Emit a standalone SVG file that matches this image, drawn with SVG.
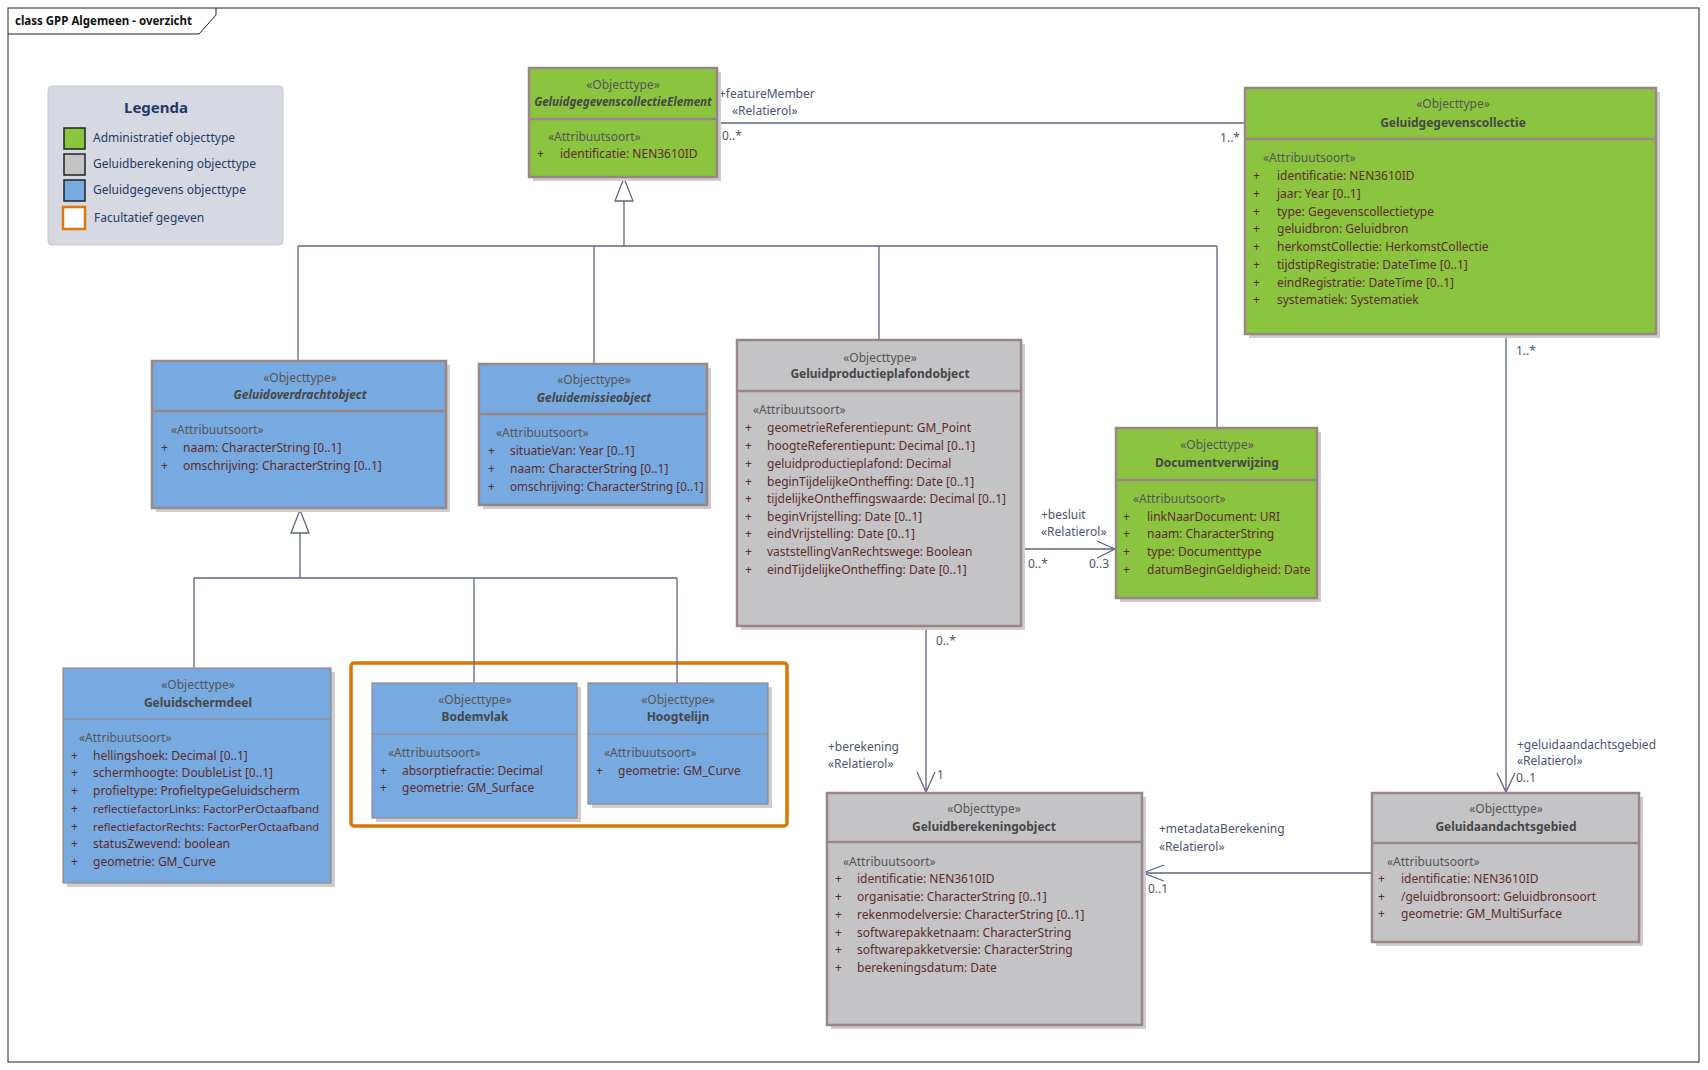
<svg xmlns="http://www.w3.org/2000/svg" width="1708" height="1070" viewBox="0 0 1708 1070">
<style>
text{font-family:"Noto Sans","Open Sans","DejaVu Sans",sans-serif;font-size:12px}
.sh{fill:#cdcdcd}
.g{fill:#8bc43f}
.b{fill:#77aae0}
.y{fill:#c4c4c6}
.tk{stroke:#9b8686;stroke-width:2.5}
.tn{stroke:#9b8686;stroke-width:1.2}
.st{fill:#555;text-anchor:middle}
.nm{fill:#474747;font-weight:bold;text-anchor:middle}
.it{font-style:italic}
.as{fill:#555}
.at{fill:#5e2b2b}
.cn{stroke:#5d6680;stroke-width:1.3;fill:none}
.gen{stroke:#5d6680;stroke-width:1.3;fill:#fff}
.lb{fill:#4d5470}
.lg{fill:#1f3a66;font-size:12px}
</style>
<rect x="0" y="0" width="1708" height="1070" fill="#fff"/>
<g id="frame">
<rect x="8" y="8" width="1691" height="1054" fill="none" stroke="#222" stroke-width="1"/>
<path d="M8,34 H199 L216,15 V8" fill="none" stroke="#222" stroke-width="1"/>
<text x="15" y="25" style="font-weight:bold;font-size:11.5px" fill="#111">class GPP Algemeen - overzicht</text>
</g>
<g id="legend">
<rect x="48" y="86" width="235" height="159" rx="4" fill="#d6d9e1" stroke="#c6c9d2"/>
<text x="156" y="113" text-anchor="middle" style="font-weight:bold;font-size:15px" fill="#1f3a66">Legenda</text>
<rect x="64" y="128" width="21" height="21" fill="#8bc43f" stroke="#222" stroke-width="1.5"/>
<text class="lg" x="93" y="142">Administratief objecttype</text>
<rect x="64" y="154" width="21" height="21" fill="#c4c4c6" stroke="#222" stroke-width="1.5"/>
<text class="lg" x="93" y="168">Geluidberekening objecttype</text>
<rect x="64" y="180" width="21" height="21" fill="#77aae0" stroke="#222" stroke-width="1.5"/>
<text class="lg" x="93" y="194">Geluidgegevens objecttype</text>
<rect x="63" y="207" width="22" height="22" fill="#fff" stroke="#d97a0f" stroke-width="2.5"/>
<text class="lg" x="94" y="222">Facultatief gegeven</text>
</g>
<g id="optional-box">
<rect x="351" y="663" width="436" height="163" rx="3" fill="none" stroke="#d97706" stroke-width="3.5"/>
</g>
<g id="connectors">
<polygon class="gen" points="624,178 615,201 633,201"/>
<line class="cn" x1="624" y1="201" x2="624" y2="246"/>
<line class="cn" x1="298" y1="246" x2="1217" y2="246"/>
<line class="cn" x1="298" y1="246" x2="298" y2="361"/>
<line class="cn" x1="594" y1="246" x2="594" y2="364"/>
<line class="cn" x1="879" y1="246" x2="879" y2="340"/>
<line class="cn" x1="1217" y1="246" x2="1217" y2="428"/>
<polygon class="gen" points="300,510 291,533 309,533"/>
<line class="cn" x1="300" y1="533" x2="300" y2="578"/>
<line class="cn" x1="194" y1="578" x2="677" y2="578"/>
<line class="cn" x1="194" y1="578" x2="194" y2="668"/>
<line class="cn" x1="474" y1="578" x2="474" y2="683"/>
<line class="cn" x1="677" y1="578" x2="677" y2="683"/>
<line class="cn" x1="717" y1="123" x2="1245" y2="123"/>
<line class="cn" x1="1021" y1="549" x2="1116" y2="549"/>
<polyline class="cn" points="1097,541 1115,549 1097,558"/>
<line class="cn" x1="926" y1="626" x2="926" y2="793"/>
<polyline class="cn" points="917,772 926,792 935,772"/>
<line class="cn" x1="1506" y1="334" x2="1506" y2="793"/>
<polyline class="cn" points="1497,773 1506,792 1515,773"/>
<line class="cn" x1="1372" y1="873" x2="1142" y2="873"/>
<polyline class="cn" points="1164,865 1143,873 1164,881"/>
<text class="lb" x="719" y="98">+featureMember</text>
<text class="lb" x="732" y="115">«Relatierol»</text>
<text class="lb" x="722" y="140">0..*</text>
<text class="lb" x="1240" y="142" text-anchor="end">1..*</text>
<text class="lb" x="1041" y="519">+besluit</text>
<text class="lb" x="1041" y="536">«Relatierol»</text>
<text class="lb" x="1028" y="568">0..*</text>
<text class="lb" x="1089" y="568">0..3</text>
<text class="lb" x="936" y="645">0..*</text>
<text class="lb" x="828" y="751">+berekening</text>
<text class="lb" x="828" y="768">«Relatierol»</text>
<text class="lb" x="937" y="779">1</text>
<text class="lb" x="1516" y="355">1..*</text>
<text class="lb" x="1517" y="749">+geluidaandachtsgebied</text>
<text class="lb" x="1517" y="765">«Relatierol»</text>
<text class="lb" x="1516" y="782">0..1</text>
<text class="lb" x="1159" y="833">+metadataBerekening</text>
<text class="lb" x="1159" y="851">«Relatierol»</text>
<text class="lb" x="1148" y="893">0..1</text>
</g>
<g id="n-element">
<rect class="sh" x="533" y="72" width="188" height="109"/>
<rect class="g tk" x="529" y="68" width="188" height="109"/>
<line class="tk" x1="529" y1="119" x2="717" y2="119"/>
<text class="st" x="623" y="89">«Objecttype»</text>
<text class="nm it" x="623" y="106" style="font-size:11.6px">GeluidgegevenscollectieElement</text>
<text class="as" x="548" y="141">«Attribuutsoort»</text>
<text class="at" x="537" y="158">+</text><text class="at" x="560" y="158">identificatie: NEN3610ID</text>
</g>
<g id="n-collectie">
<rect class="sh" x="1249" y="92" width="411" height="246"/>
<rect class="g tk" x="1245" y="88" width="411" height="246"/>
<line class="tk" x1="1245" y1="139" x2="1656" y2="139"/>
<text class="st" x="1453" y="108">«Objecttype»</text>
<text class="nm" x="1453" y="127">Geluidgegevenscollectie</text>
<text class="as" x="1263" y="162">«Attribuutsoort»</text>
<text class="at" x="1253" y="180">+</text><text class="at" x="1277" y="180">identificatie: NEN3610ID</text>
<text class="at" x="1253" y="198">+</text><text class="at" x="1277" y="198">jaar: Year [0..1]</text>
<text class="at" x="1253" y="215.7">+</text><text class="at" x="1277" y="215.7">type: Gegevenscollectietype</text>
<text class="at" x="1253" y="233">+</text><text class="at" x="1277" y="233">geluidbron: Geluidbron</text>
<text class="at" x="1253" y="251">+</text><text class="at" x="1277" y="251">herkomstCollectie: HerkomstCollectie</text>
<text class="at" x="1253" y="269">+</text><text class="at" x="1277" y="269">tijdstipRegistratie: DateTime [0..1]</text>
<text class="at" x="1253" y="286.7">+</text><text class="at" x="1277" y="286.7">eindRegistratie: DateTime [0..1]</text>
<text class="at" x="1253" y="304">+</text><text class="at" x="1277" y="304">systematiek: Systematiek</text>
</g>
<g id="n-overdracht">
<rect class="sh" x="156" y="365" width="294" height="147"/>
<rect class="b tk" x="152" y="361" width="294" height="147"/>
<line class="tk" x1="152" y1="411" x2="446" y2="411"/>
<text class="st" x="300" y="382">«Objecttype»</text>
<text class="nm it" x="300" y="399">Geluidoverdrachtobject</text>
<text class="as" x="171" y="434">«Attribuutsoort»</text>
<text class="at" x="161" y="452">+</text><text class="at" x="183" y="452">naam: CharacterString [0..1]</text>
<text class="at" x="161" y="470">+</text><text class="at" x="183" y="470">omschrijving: CharacterString [0..1]</text>
</g>
<g id="n-emissie">
<rect class="sh" x="483" y="368" width="228" height="141"/>
<rect class="b tk" x="479" y="364" width="228" height="141"/>
<line class="tk" x1="479" y1="414" x2="707" y2="414"/>
<text class="st" x="594" y="384">«Objecttype»</text>
<text class="nm it" x="594" y="402">Geluidemissieobject</text>
<text class="as" x="496" y="437">«Attribuutsoort»</text>
<text class="at" x="488" y="455">+</text><text class="at" x="510" y="455">situatieVan: Year [0..1]</text>
<text class="at" x="488" y="473">+</text><text class="at" x="510" y="473">naam: CharacterString [0..1]</text>
<text class="at" x="488" y="491">+</text><text class="at" x="510" y="491" style="font-size:11.7px">omschrijving: CharacterString [0..1]</text>
</g>
<g id="n-plafond">
<rect class="sh" x="741" y="344" width="284" height="286"/>
<rect class="y tk" x="737" y="340" width="284" height="286"/>
<line class="tk" x1="737" y1="391" x2="1021" y2="391"/>
<text class="st" x="880" y="362">«Objecttype»</text>
<text class="nm" x="880" y="378">Geluidproductieplafondobject</text>
<text class="as" x="753" y="414">«Attribuutsoort»</text>
<text class="at" x="745" y="432">+</text><text class="at" x="767" y="432">geometrieReferentiepunt: GM_Point</text>
<text class="at" x="745" y="450">+</text><text class="at" x="767" y="450">hoogteReferentiepunt: Decimal [0..1]</text>
<text class="at" x="745" y="467.7">+</text><text class="at" x="767" y="467.7">geluidproductieplafond: Decimal</text>
<text class="at" x="745" y="485.7">+</text><text class="at" x="767" y="485.7">beginTijdelijkeOntheffing: Date [0..1]</text>
<text class="at" x="745" y="503">+</text><text class="at" x="767" y="503">tijdelijkeOntheffingswaarde: Decimal [0..1]</text>
<text class="at" x="745" y="520.7">+</text><text class="at" x="767" y="520.7">beginVrijstelling: Date [0..1]</text>
<text class="at" x="745" y="538">+</text><text class="at" x="767" y="538">eindVrijstelling: Date [0..1]</text>
<text class="at" x="745" y="556">+</text><text class="at" x="767" y="556">vaststellingVanRechtswege: Boolean</text>
<text class="at" x="745" y="574">+</text><text class="at" x="767" y="574">eindTijdelijkeOntheffing: Date [0..1]</text>
</g>
<g id="n-document">
<rect class="sh" x="1120" y="432" width="201" height="170"/>
<rect class="g tk" x="1116" y="428" width="201" height="170"/>
<line class="tk" x1="1116" y1="480" x2="1317" y2="480"/>
<text class="st" x="1217" y="449">«Objecttype»</text>
<text class="nm" x="1217" y="467">Documentverwijzing</text>
<text class="as" x="1133" y="503">«Attribuutsoort»</text>
<text class="at" x="1123" y="521">+</text><text class="at" x="1147" y="521">linkNaarDocument: URI</text>
<text class="at" x="1123" y="538">+</text><text class="at" x="1147" y="538">naam: CharacterString</text>
<text class="at" x="1123" y="556">+</text><text class="at" x="1147" y="556">type: Documenttype</text>
<text class="at" x="1123" y="574">+</text><text class="at" x="1147" y="574">datumBeginGeldigheid: Date</text>
</g>
<g id="n-scherm">
<rect class="sh" x="67" y="672" width="268" height="215"/>
<rect class="b tn" x="63" y="668" width="268" height="215"/>
<line class="tn" x1="63" y1="719" x2="331" y2="719"/>
<text class="st" x="198" y="689">«Objecttype»</text>
<text class="nm" x="198" y="707">Geluidschermdeel</text>
<text class="as" x="79" y="742">«Attribuutsoort»</text>
<text class="at" x="71" y="760">+</text><text class="at" x="93" y="760">hellingshoek: Decimal [0..1]</text>
<text class="at" x="71" y="777">+</text><text class="at" x="93" y="777">schermhoogte: DoubleList [0..1]</text>
<text class="at" x="71" y="795">+</text><text class="at" x="93" y="795">profieltype: ProfieltypeGeluidscherm</text>
<text class="at" x="71" y="813">+</text><text class="at" x="93" y="813" style="font-size:11.6px">reflectiefactorLinks: FactorPerOctaafband</text>
<text class="at" x="71" y="830.7">+</text><text class="at" x="93" y="830.7" style="font-size:11.2px">reflectiefactorRechts: FactorPerOctaafband</text>
<text class="at" x="71" y="848">+</text><text class="at" x="93" y="848">statusZwevend: boolean</text>
<text class="at" x="71" y="866">+</text><text class="at" x="93" y="866">geometrie: GM_Curve</text>
</g>
<g id="n-bodemvlak">
<rect class="sh" x="376" y="687" width="205" height="135"/>
<rect class="b tn" x="372" y="683" width="205" height="135"/>
<line class="tn" x1="372" y1="734" x2="577" y2="734"/>
<text class="st" x="475" y="704">«Objecttype»</text>
<text class="nm" x="475" y="721">Bodemvlak</text>
<text class="as" x="388" y="757">«Attribuutsoort»</text>
<text class="at" x="380" y="775">+</text><text class="at" x="402" y="775">absorptiefractie: Decimal</text>
<text class="at" x="380" y="792">+</text><text class="at" x="402" y="792">geometrie: GM_Surface</text>
</g>
<g id="n-hoogtelijn">
<rect class="sh" x="592" y="687" width="180" height="121"/>
<rect class="b tn" x="588" y="683" width="180" height="121"/>
<line class="tn" x1="588" y1="734" x2="768" y2="734"/>
<text class="st" x="678" y="704">«Objecttype»</text>
<text class="nm" x="678" y="721">Hoogtelijn</text>
<text class="as" x="604" y="757">«Attribuutsoort»</text>
<text class="at" x="596" y="775">+</text><text class="at" x="618" y="775">geometrie: GM_Curve</text>
</g>
<g id="n-berekening">
<rect class="sh" x="831" y="797" width="315" height="232"/>
<rect class="y tk" x="827" y="793" width="315" height="232"/>
<line class="tk" x1="827" y1="842" x2="1142" y2="842"/>
<text class="st" x="984" y="813">«Objecttype»</text>
<text class="nm" x="984" y="831">Geluidberekeningobject</text>
<text class="as" x="843" y="866">«Attribuutsoort»</text>
<text class="at" x="835" y="883">+</text><text class="at" x="857" y="883">identificatie: NEN3610ID</text>
<text class="at" x="835" y="901">+</text><text class="at" x="857" y="901">organisatie: CharacterString [0..1]</text>
<text class="at" x="835" y="919">+</text><text class="at" x="857" y="919">rekenmodelversie: CharacterString [0..1]</text>
<text class="at" x="835" y="937">+</text><text class="at" x="857" y="937">softwarepakketnaam: CharacterString</text>
<text class="at" x="835" y="954">+</text><text class="at" x="857" y="954">softwarepakketversie: CharacterString</text>
<text class="at" x="835" y="972">+</text><text class="at" x="857" y="972">berekeningsdatum: Date</text>
</g>
<g id="n-aandacht">
<rect class="sh" x="1376" y="797" width="267" height="149"/>
<rect class="y tk" x="1372" y="793" width="267" height="149"/>
<line class="tk" x1="1372" y1="843" x2="1639" y2="843"/>
<text class="st" x="1506" y="813">«Objecttype»</text>
<text class="nm" x="1506" y="831">Geluidaandachtsgebied</text>
<text class="as" x="1387" y="866">«Attribuutsoort»</text>
<text class="at" x="1378" y="883">+</text><text class="at" x="1401" y="883">identificatie: NEN3610ID</text>
<text class="at" x="1378" y="901">+</text><text class="at" x="1401" y="901">/geluidbronsoort: Geluidbronsoort</text>
<text class="at" x="1378" y="918">+</text><text class="at" x="1401" y="918">geometrie: GM_MultiSurface</text>
</g>
</svg>
